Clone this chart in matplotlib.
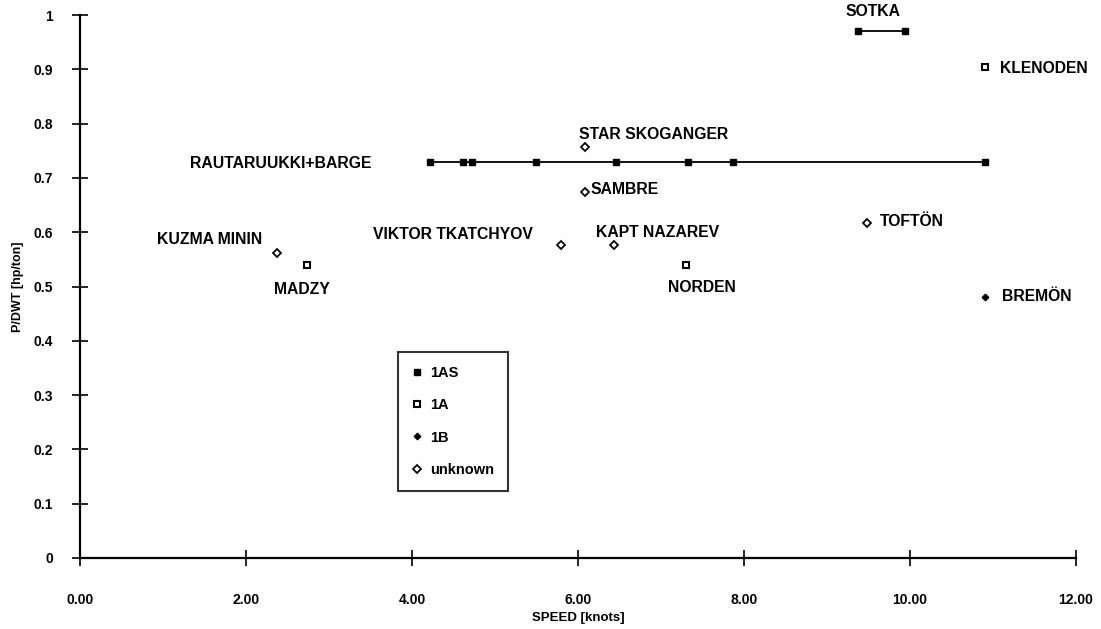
import numpy as np
import matplotlib
matplotlib.use("Agg")
import matplotlib.pyplot as plt
from matplotlib.lines import Line2D

plt.rcParams['font.family'] = ['Liberation Sans', 'DejaVu Sans']
plt.rcParams['font.weight'] = 'bold'

# 1AS ships drawn as connected series
raut_speed = [4.22, 4.62, 4.72, 5.5, 6.46, 7.33, 7.87, 10.9]
raut_pdwt = [0.73, 0.73, 0.73, 0.73, 0.73, 0.73, 0.73, 0.73]
sotka_speed = [9.37, 9.94]
sotka_pdwt = [0.97, 0.97]

# single ships: name, speed [knots], P/DWT [hp/ton], class
names = ["KLENODEN", "MADZY", "NORDEN", "BREMÖN", "STAR SKOGANGER", "SAMBRE",
         "KUZMA MININ", "VIKTOR TKATCHYOV", "KAPT NAZAREV", "TOFTÖN"]
speeds = [10.9, 2.74, 7.3, 10.9, 6.08, 6.08, 2.37, 5.8, 6.44, 9.48]
pdwt = [0.905, 0.54, 0.54, 0.48, 0.757, 0.675, 0.562, 0.577, 0.577, 0.617]
classes = ["1A", "1A", "1A", "1B", "unknown", "unknown",
           "unknown", "unknown", "unknown", "unknown"]

class_names = ["1AS", "1A", "1B", "unknown"]
x_ticks = [0, 2, 4, 6, 8, 10, 12]
y_ticks = [0, 0.1, 0.2, 0.3, 0.4, 0.5, 0.6, 0.7, 0.8, 0.9, 1.0]

styles = {
    "1AS": dict(marker='s', ms=4.5, mfc='black', mec='black', mew=1),
    "1A": dict(marker='s', ms=5, mfc='white', mec='black', mew=1.5),
    "1B": dict(marker='D', ms=3.3, mfc='black', mec='black', mew=1),
    "unknown": dict(marker='D', ms=4.3, mfc='white', mec='black', mew=1.3),
}

# label placement as pixel offsets from the mark: (dx, dy, ha)
label_offsets = {
    "KLENODEN": (15, -2, 'left'),
    "MADZY": (-33, -25, 'left'),
    "NORDEN": (-18, -23, 'left'),
    "BREMÖN": (17, 1, 'left'),
    "STAR SKOGANGER": (-6, 13, 'left'),
    "SAMBRE": (6, 2, 'left'),
    "KUZMA MININ": (-14, 13, 'right'),
    "VIKTOR TKATCHYOV": (-28, 10, 'right'),
    "KAPT NAZAREV": (-18, 12, 'left'),
    "TOFTÖN": (13, 1, 'left'),
}
label_size = 11.3

fig = plt.figure(figsize=(11.01, 6.29), dpi=100)
ax = fig.add_axes([0.0727, 0.113, 0.9045, 0.863])

ax.plot(raut_speed, raut_pdwt, color='black', lw=1.3, **styles["1AS"])
ax.plot(sotka_speed, sotka_pdwt, color='black', lw=1.3, **styles["1AS"])

for n, s, p, c in zip(names, speeds, pdwt, classes):
    ax.plot([s], [p], linestyle='none', **styles[c])
    dx, dy, ha = label_offsets[n]
    ax.annotate(n, (s, p), xytext=(dx, dy), textcoords='offset pixels',
                ha=ha, va='center', fontsize=label_size, fontweight='bold')

ax.annotate("RAUTARUUKKI+BARGE", (raut_speed[0], raut_pdwt[0]), xytext=(-59, -2),
            textcoords='offset pixels', ha='right', va='center',
            fontsize=label_size, fontweight='bold')
ax.annotate("SOTKA", (sotka_speed[0], sotka_pdwt[0]), xytext=(-12, 20),
            textcoords='offset pixels', ha='left', va='center',
            fontsize=label_size, fontweight='bold')

ax.set_xlim(0, 12)
ax.set_ylim(0, 1)
ax.set_xticks(x_ticks)
ax.set_xticklabels([f"{v:.2f}" for v in x_ticks])
ax.set_yticks(y_ticks)
ax.set_yticklabels([f"{v:g}" for v in y_ticks])

for side in ('top', 'right'):
    ax.spines[side].set_visible(False)
for side in ('left', 'bottom'):
    ax.spines[side].set_linewidth(1.6)

ax.tick_params(axis='both', direction='inout', length=11, width=1.2,
               labelsize=10)
ax.tick_params(axis='x', pad=20)
ax.tick_params(axis='y', pad=14)
for lbl in ax.get_xticklabels() + ax.get_yticklabels():
    lbl.set_fontweight('bold')

ax.set_xlabel("SPEED [knots]", fontsize=9.5, fontweight='bold')
ax.set_ylabel("P/DWT [hp/ton]", fontsize=9, fontweight='bold')
ax.xaxis.set_label_coords(0.5, -0.1)
ax.yaxis.set_label_coords(-0.056, 0.5)

handles = [Line2D([], [], linestyle='none', **styles[c]) for c in class_names]
leg = ax.legend(handles, class_names, loc='upper left',
                bbox_to_anchor=(0.319, 0.379), frameon=True, fancybox=False,
                edgecolor='black', labelspacing=1.25, handlelength=0.8,
                handletextpad=0.5, borderpad=0.95, borderaxespad=0,
                prop={'weight': 'bold', 'size': 10.5})
leg.get_frame().set_linewidth(1.5)

fig.savefig("out.png", dpi=100)
